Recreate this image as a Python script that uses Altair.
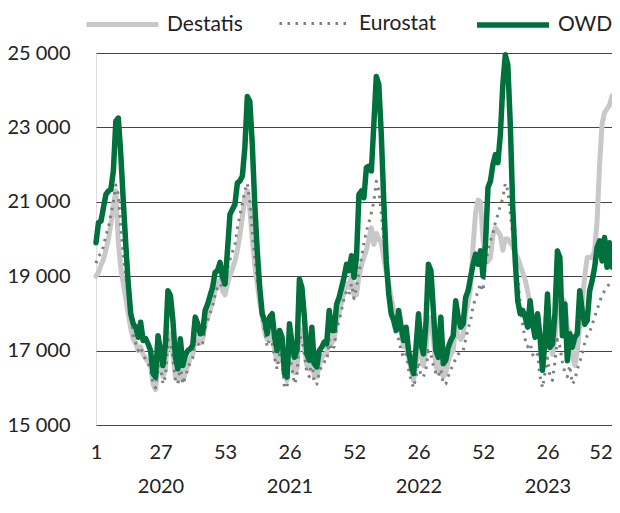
import altair as alt
import pandas as pd

# ---- data (weekly values, week index 0 = 2020 week 1) ----
series_names = ["Destatis", "Eurostat", "OWD"]
series_colors = ["#c8c8c8", "#7f7f7f", "#00703c"]
series_widths = [5, 3, 5.5]
series_dashes = [[1, 0], [2.5, 5.5], [1, 0]]

destatis_2020 = [19000, 19100, 19300, 19450, 19700, 20000, 20400, 20900, 21300, 19900, 19200, 18800, 18400,
                 18000, 17600, 17300, 17200, 17000, 17100, 16900, 16800, 16700, 16600, 16100, 15950, 16600,
                 16700, 16300, 16500, 17500, 17300, 16900, 16300, 16200, 16700, 16200, 16400, 16600, 16800,
                 16900, 17400, 17300, 17200, 17300, 17700, 17900, 18100, 18300, 18600, 18800, 18900, 18600, 18500]
destatis_2021 = [18800, 19000, 19200, 19400, 19700, 20100, 20600, 21100, 21300, 20800, 20000, 19300, 18800,
                 18300, 17900, 17500, 17300, 17500, 17400, 17000, 16700, 17100, 16900, 16300, 16200, 17100,
                 16800, 16400, 16500, 17600, 17500, 17100, 16600, 16500, 17000, 16300, 16300, 16600, 16800,
                 16900, 16900, 17500, 17200, 17300, 17800, 18000, 18300, 18600, 18800, 18700, 19000, 18500]
destatis_2022 = [18500, 19000, 19300, 19500, 19700, 20000, 20300, 19850, 20150, 20000, 19900, 19500, 19100,
                 18800, 18400, 18100, 17800, 17900, 17500, 17100, 17300, 16800, 16500, 16200, 16600, 17300,
                 16900, 16600, 17000, 17900, 17800, 17300, 16600, 16400, 17000, 16300, 16400, 16700, 16900,
                 17000, 17700, 17400, 17300, 17400, 18000, 18300, 18700, 19800, 20700, 21050, 21000, 20000]
destatis_2023 = [19500, 19400, 19500, 20100, 20300, 20200, 20100, 19700, 20000, 20000, 19900, 19800, 19600,
                 19500, 19300, 19100, 18900, 18600, 18200, 17900, 17700, 17800, 17400, 17000, 17100, 17600,
                 17100, 16900, 17300, 18100, 18300, 18400, 18300, 17600, 17500, 16900, 16600, 17000, 17700,
                 18300, 19000, 19500, 19500, 19500, 19700, 20500, 22000, 23100, 23400, 23500, 23600, 23850]

eurostat_2020 = [19350, 19550, 19600, 19800, 20100, 20300, 20650, 21000, 21450, 21200, 20300, 19600, 19000,
                 18500, 18000, 17400, 17200, 17000, 17100, 16900, 16750, 16650, 16500, 16100, 16000, 16500,
                 16600, 16100, 16300, 17300, 17200, 16800, 16200, 16100, 16600, 16100, 16300, 16500, 16700,
                 16800, 17300, 17200, 17100, 17200, 17600, 17800, 18000, 18200, 18500, 18700, 18800, 18700, 19000]
eurostat_2021 = [19200, 19450, 19650, 19850, 20300, 20650, 20950, 21300, 21500, 21000, 20200, 19500, 18900,
                 18400, 17900, 17500, 17100, 17300, 17200, 16800, 16500, 16900, 16700, 16000, 16000, 16900,
                 16500, 16100, 16300, 17400, 17300, 16900, 16400, 16300, 16800, 16100, 16100, 16400, 16600,
                 16700, 16700, 17300, 17000, 17100, 17600, 17800, 18100, 18400, 18600, 18500, 18800, 18400]
eurostat_2022 = [18700, 19100, 19500, 19900, 20200, 20450, 20700, 21000, 21550, 21300, 20700, 20000, 19300,
                 18700, 18100, 17700, 17400, 17300, 17000, 16800, 16900, 16500, 16200, 16000, 16300, 16700,
                 16300, 16300, 16500, 17000, 16900, 16600, 16400, 16300, 16500, 16100, 16100, 16300, 16500,
                 16600, 16800, 16900, 17000, 17000, 17300, 17600, 17800, 18200, 18400, 18600, 18800, 18600]
eurostat_2023 = [19300, 19700, 19950, 20150, 20450, 20650, 20900, 21100, 21500, 21300, 20700, 20100, 19500,
                 18900, 18300, 17700, 17300, 17100, 17200, 16900, 16800, 16900, 16300, 16000, 16400, 16800,
                 16300, 16200, 16700, 17300, 17100, 16700, 16400, 16300, 16600, 16100, 16200, 16500, 16700,
                 16900, 17200, 17400, 17500, 17700, 17900, 18100, 18300, 18500, 18600, 18700, 18800, 18900]

owd_2020 = [19900, 20440, 20480, 20840, 21200, 21290, 21330, 21830, 23170, 23250, 22270, 21020, 19860,
            18790, 17990, 17720, 17630, 17360, 17760, 17270, 17320, 17180, 17000, 16380, 16290, 17400,
            17000, 16600, 17180, 18610, 18480, 17810, 16820, 16510, 17320, 16600, 16870, 17000, 17050,
            17140, 17900, 17720, 17450, 17490, 18080, 18250, 18480, 18700, 19100, 19150, 19370, 18970, 18790]
owd_2021 = [19700, 20660, 20800, 20930, 21510, 21560, 21690, 22450, 23830, 23700, 22540, 20930, 19680,
            18700, 17990, 17810, 17450, 17900, 17990, 17360, 17000, 17540, 17360, 16380, 16290, 17720,
            17180, 16820, 17000, 18920, 18700, 17900, 16910, 16740, 17630, 16650, 16560, 17000, 17090,
            17230, 17180, 18080, 17540, 17540, 18250, 18430, 18700, 18970, 19320, 19150, 19550, 18970]
owd_2022 = [19500, 21200, 21290, 21110, 21920, 21960, 21830, 23080, 24370, 24150, 22810, 21020, 19410,
            18520, 17990, 17810, 17540, 18080, 17630, 17270, 17630, 17000, 16650, 16380, 17090, 17990,
            17180, 16910, 17720, 19320, 19150, 18080, 17000, 16820, 17900, 16650, 16740, 17090, 17270,
            17400, 18340, 17900, 17630, 17720, 18430, 18610, 18970, 19320, 19590, 19320, 19680, 19000]
owd_2023 = [19860, 21380, 21560, 22000, 22270, 22050, 22810, 24150, 24950, 24680, 23080, 20840, 19410,
            18340, 17990, 18080, 17900, 17630, 18340, 17720, 17360, 17990, 17360, 16470, 17270, 18520,
            17090, 17180, 17990, 19680, 19500, 17400, 18250, 16730, 17450, 17090, 17360, 17450, 18610,
            18080, 17710, 17810, 18610, 18880, 19240, 19770, 19950, 19410, 20040, 19240, 19900, 19240]

tick_index = [0, 26, 52, 78, 104, 130, 156, 182, 208]
tick_labels = ["1", "27", "53", "26", "52", "26", "52", "26", "52"]
year_tick_index = [26, 78, 130, 182]
year_labels = ["2020", "2021", "2022", "2023"]
y_ticks = [15000, 17000, 19000, 21000, 23000, 25000]

# ---- build long table ----
values = {
    "Destatis": destatis_2020 + destatis_2021 + destatis_2022 + destatis_2023,
    "Eurostat": eurostat_2020 + eurostat_2021 + eurostat_2022 + eurostat_2023,
    "OWD": owd_2020 + owd_2021 + owd_2022 + owd_2023,
}
rows = []
for name in series_names:
    for i, v in enumerate(values[name]):
        rows.append({"idx": i, "series": name, "value": v})
df = pd.DataFrame(rows)

years_at = dict(zip(year_tick_index, year_labels))
parts = []
for v, lab in zip(tick_index, tick_labels):
    if v in years_at:
        txt = f"['{lab}', '{years_at[v]}']"
    else:
        txt = f"'{lab}'"
    parts.append(f"datum.value == {v} ? {txt} : ")
x_label_expr = "".join(parts) + "''"

FONT = "Lato"
SYM_LEN = 72

legend = alt.Legend(
    orient="none", legendX=-12, legendY=-67, direction="horizontal", title=None,
    symbolType="stroke", symbolSize=SYM_LEN * SYM_LEN, labelFont=FONT, labelFontSize=21,
    labelColor="#222222", labelOffset=6, columnPadding=30, padding=0, gridAlign="none",
)

base = alt.Chart(df).encode(
    x=alt.X("idx:Q",
            scale=alt.Scale(domain=[0, 208], nice=False, zero=False),
            axis=alt.Axis(values=tick_index, labelExpr=x_label_expr, title=None, grid=False,
                          domain=False, ticks=False, labelPadding=17, labelFont=FONT,
                          labelFontSize=20, labelColor="#222222", labelLineHeight=34,
                          labelOverlap=False, labelBound=False, labelFlush=False,
                          labelAlign={"condition": {"test": "datum.value >= 208", "value": "right"},
                                      "value": "center"})),
    y=alt.Y("value:Q",
            scale=alt.Scale(domain=[15000, 25000], nice=False, zero=False),
            axis=alt.Axis(values=y_ticks, title=None, grid=True, gridColor="#444444", gridWidth=1,
                          domain=False, ticks=False, labelPadding=26, labelFont=FONT,
                          labelFontSize=20, labelColor="#222222",
                          labelExpr="replace(format(datum.value, ','), ',', ' ')")),
    color=alt.Color("series:N", scale=alt.Scale(domain=series_names, range=series_colors), legend=legend),
    strokeDash=alt.StrokeDash("series:N", scale=alt.Scale(domain=series_names, range=series_dashes), legend=legend),
    strokeWidth=alt.StrokeWidth("series:N",
                                scale=alt.Scale(type="ordinal", domain=series_names, range=series_widths),
                                legend=legend),
)

layers = []
for name in series_names:
    cap = "butt" if name == "Eurostat" else "round"
    layers.append(
        base.transform_filter(alt.datum.series == name).mark_line(strokeCap=cap, strokeJoin="round")
    )

chart = alt.layer(*layers).properties(
    width=516, height=372,
    autosize=alt.AutoSizeParams(type="none"),
    padding={"left": 88, "top": 45, "right": 0, "bottom": 75},
).configure_view(stroke=None).configure(background="white")

chart.save("out.html", embed_options={"renderer": "svg", "actions": False})
